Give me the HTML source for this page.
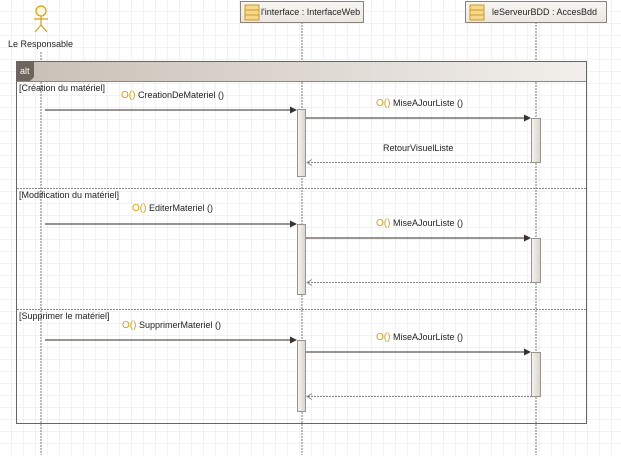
<!DOCTYPE html>
<html><head><meta charset="utf-8"><style>
body{margin:0;width:621px;height:455px;overflow:hidden;background:#fff;font-family:"Liberation Sans",sans-serif}
svg text{font-family:"Liberation Sans",sans-serif;font-size:9px;fill:#222}
</style></head><body>
<svg width="621" height="455" xmlns="http://www.w3.org/2000/svg">
<defs>
<pattern id="g" width="12" height="12" patternUnits="userSpaceOnUse"><path d="M12 0V12H0" fill="none" stroke="#e6e6e6" stroke-width="1"/></pattern>
<linearGradient id="hd" x1="0" x2="1"><stop offset="0" stop-color="#c9c0b6"/><stop offset="1" stop-color="#f2efec"/></linearGradient>
<linearGradient id="act" x1="0" x2="1"><stop offset="0" stop-color="#f7f5f2"/><stop offset="1" stop-color="#d8d2cb"/></linearGradient>
<linearGradient id="bx" x1="0" y1="0" x2="0" y2="1"><stop offset="0" stop-color="#f8f6f3"/><stop offset="1" stop-color="#ebe6e0"/></linearGradient>
</defs>
<rect width="621" height="455" fill="url(#g)"/>
<g stroke="#d4a017" fill="#fff8dc" stroke-width="1.2">
<circle cx="41" cy="11" r="5"/>
<path d="M41 16V25M34 19H48M41 25L35 32M41 25L47 32" fill="none"/>
</g>
<text x="8" y="47">Le Responsable</text>
<g stroke="#777" stroke-dasharray="2,1" stroke-width="1">
<line x1="41" y1="52" x2="41" y2="455"/>
<line x1="302" y1="22" x2="302" y2="455"/>
<line x1="536" y1="22" x2="536" y2="455"/>
</g>
<rect x="240.5" y="1.5" width="123" height="21" fill="url(#bx)" stroke="#8a837c"/>
<rect x="245" y="5" width="14" height="15" fill="#f7d88a" stroke="#c99a2e"/>
<line x1="245" y1="10" x2="259" y2="10" stroke="#c99a2e"/><line x1="245" y1="15" x2="259" y2="15" stroke="#c99a2e"/>
<text x="261" y="15">l'interface : InterfaceWeb</text>
<rect x="465.5" y="1.5" width="141" height="21" fill="url(#bx)" stroke="#8a837c"/>
<rect x="470" y="5" width="14" height="15" fill="#f7d88a" stroke="#c99a2e"/>
<line x1="470" y1="10" x2="484" y2="10" stroke="#c99a2e"/><line x1="470" y1="15" x2="484" y2="15" stroke="#c99a2e"/>
<text x="492" y="15">leServeurBDD : AccesBdd</text>
<rect x="16.5" y="61.5" width="570" height="20" fill="url(#hd)" stroke="#8a837c"/>
<path d="M17 62H34V77L30 81H17Z" fill="#6e655d"/>
<text x="20" y="74" style="fill:#fff">alt</text>
<rect x="16.5" y="61.5" width="570" height="362" fill="none" stroke="#666" stroke-width="1"/>
<g stroke="#888" stroke-dasharray="2,1">
<line x1="17" y1="81.5" x2="586" y2="81.5"/>
<line x1="17" y1="188.5" x2="586" y2="188.5"/>
<line x1="17" y1="309.5" x2="586" y2="309.5"/>
</g>
<text x="19" y="91">[Création du matériel]</text>
<text x="19" y="198">[Modification du matériel]</text>
<text x="19" y="319">[Supprimer le matériel]</text>
<g fill="url(#act)" stroke="#9b948d">
<rect x="297.5" y="109.5" width="8" height="67"/>
<rect x="531.5" y="118.5" width="9" height="44"/>
<rect x="297.5" y="224.5" width="8" height="70"/>
<rect x="531.5" y="238.5" width="9" height="44"/>
<rect x="297.5" y="340.5" width="8" height="71"/>
<rect x="531.5" y="352.5" width="9" height="44"/>
</g>
<g stroke="#5a534d" stroke-width="1.2">
<line x1="45" y1="110" x2="292" y2="110"/><line x1="306" y1="118" x2="526" y2="118"/>
<line x1="45" y1="224" x2="292" y2="224"/><line x1="306" y1="238" x2="526" y2="238"/>
<line x1="45" y1="340" x2="292" y2="340"/><line x1="306" y1="352" x2="526" y2="352"/>
</g>
<g fill="#3a332d">
<path d="M297 110l-7-3.5v7z"/><path d="M531 118l-7-3.5v7z"/>
<path d="M297 224l-7-3.5v7z"/><path d="M531 238l-7-3.5v7z"/>
<path d="M297 340l-7-3.5v7z"/><path d="M531 352l-7-3.5v7z"/>
</g>
<g stroke="#888" stroke-dasharray="2,1" fill="none">
<line x1="308" y1="162.5" x2="531" y2="162.5"/><line x1="308" y1="282.5" x2="531" y2="282.5"/><line x1="308" y1="396.5" x2="531" y2="396.5"/>
<path d="M312 159.5l-5 3 5 3M312 279.5l-5 3 5 3M312 393.5l-5 3 5 3" stroke-dasharray="none"/>
</g>
<g>
<text x="121" y="98"><tspan style="fill:#d4a017;font-size:10px">O()</tspan> CreationDeMateriel ()</text>
<text x="376" y="106"><tspan style="fill:#d4a017;font-size:10px">O()</tspan> MiseAJourListe ()</text>
<text x="383" y="151">RetourVisuelListe</text>
<text x="132" y="211"><tspan style="fill:#d4a017;font-size:10px">O()</tspan> EditerMateriel ()</text>
<text x="376" y="226"><tspan style="fill:#d4a017;font-size:10px">O()</tspan> MiseAJourListe ()</text>
<text x="122" y="328"><tspan style="fill:#d4a017;font-size:10px">O()</tspan> SupprimerMateriel ()</text>
<text x="376" y="340"><tspan style="fill:#d4a017;font-size:10px">O()</tspan> MiseAJourListe ()</text>
</g>
</svg>
</body></html>
